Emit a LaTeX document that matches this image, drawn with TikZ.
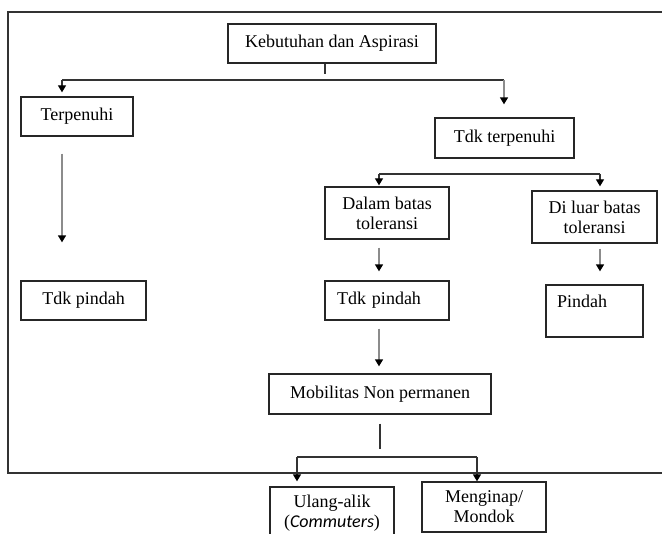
\documentclass[tikz,border=0pt]{standalone}
\usepackage{fontspec}
\setmainfont{Liberation Serif}
\newfontfamily\sansit{Carlito}
\usetikzlibrary{arrows.meta,calc}
\begin{document}
\begin{tikzpicture}[x=1bp,y=-1bp,
  box/.style={draw=black!85, line width=1.3bp, inner sep=0pt, align=center,
    font=\fontsize{18bp}{20bp}\selectfont, text=black},
  conn/.style={draw=black!80, line width=1.2bp},
  garr/.style={draw=black!45, line width=1.4bp, -{Triangle[length=7bp,width=8bp,black]}},
  darr/.style={draw=black!80, line width=1.2bp, -{Triangle[length=7bp,width=8bp,black]}},
]
\clip (0,0) rectangle (662,534);
\fill[white] (0,0) rectangle (662,534);
\draw[black!80, line width=1.4bp] (8,12) rectangle (700,473);

\node[box, minimum width=208bp, minimum height=39bp] (keb) at (332,43.5) {Kebutuhan dan Aspirasi};
\node[box, minimum width=112bp, minimum height=39bp] (terp) at (77,116.5) {Terpenuhi};
\node[box, minimum width=139bp, minimum height=40bp] (tdkterp) at (504.5,138) {Tdk terpenuhi};
\node[box, minimum width=125bp, minimum height=39bp] (tdkp1) at (83.5,300.5) {Tdk pindah};
\node[box, minimum width=124bp, minimum height=52bp] (dalam) at (387,213) {Dalam batas\\toleransi};
\node[box, minimum width=125bp, minimum height=52bp] (diluar) at (594.5,217) {Di luar batas\\toleransi};
\node[box, minimum width=124bp, minimum height=39bp, text width=100bp, align=left] (tdkp2) at (387,300.5) {Tdk pindah};
\node[box, minimum width=97bp, minimum height=52bp, text width=75bp, align=left] (pindah) at (594.5,311) {Pindah\\\mbox{}};
\node[box, minimum width=222bp, minimum height=40bp] (mob) at (380,394) {Mobilitas Non permanen};
\node[box, minimum width=124bp, minimum height=52bp] (ulang) at (332,513) {Ulang-alik\\({\sansit\itshape Commuters})};
\node[box, minimum width=124bp, minimum height=50bp] (mengi) at (484,507) {Menginap/\\Mondok};

% first split
\draw[conn] (keb.south) ++(-7,0) -- ++(0,10);
\coordinate (h1L) at (62,80);
\coordinate (h1R) at (504,80);
\draw[conn] (h1L) -- (h1R);
\draw[darr, shorten >=4bp] (h1L) -- (h1L |- terp.north);
\draw[garr, shorten >=13bp] (h1R) -- (h1R |- tdkterp.north);
\draw[garr, shorten <=17bp, shorten >=38bp] (h1L |- terp.south) -- (h1L |- tdkp1.north);

% second split
\coordinate (h2L) at (379,174);
\coordinate (h2R) at (600,174);
\draw[conn] (h2L) -- (h2R);
\draw[darr, shorten >=1bp] (h2L) -- (h2L |- dalam.north);
\draw[darr, shorten >=4bp] (h2R) -- (h2R |- diluar.north);
\draw[garr, shorten <=8bp, shorten >=9bp] (h2L |- dalam.south) -- (h2L |- tdkp2.north);
\draw[garr, shorten <=5bp, shorten >=13bp] (h2R |- diluar.south) -- (h2R |- pindah.north);
\draw[garr, shorten <=8bp, shorten >=7bp] (h2L |- tdkp2.south) -- (h2L |- mob.north);

% third split
\draw[conn] (mob.south) ++(0,9) -- ++(0,25);
\coordinate (h3L) at (297,457);
\coordinate (h3R) at (477,457);
\draw[conn] (h3L) -- (h3R);
\draw[darr, shorten >=5bp] (h3L) -- (h3L |- ulang.north);
\draw[darr] (h3R) -- (h3R |- mengi.north);
\end{tikzpicture}
\end{document}
